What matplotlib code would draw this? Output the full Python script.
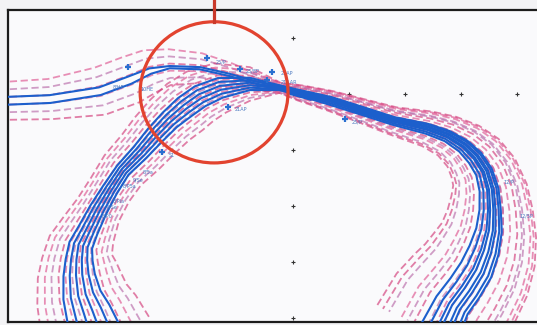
import numpy as np
import matplotlib
matplotlib.use('Agg')
from matplotlib import pyplot as plt
from matplotlib.patches import Ellipse

# guidance tracks (lon, lat)
west_lon = [-80.30, -80.09, -79.34, -78.45, -77.91, -77.55, -77.20, -76.66, -76.13, -75.68, -75.23]
west_lat = [24.88, 24.88, 24.91, 25.05, 25.25, 25.41, 25.48, 25.46, 25.34, 25.21, 25.11]
west_blue = [0.07, 0.07, 0.07, 0.07, 0.07, 0.05, 0.02, 0.02, 0.02, 0.02, 0.04]
west_pink = [0.34, 0.34, 0.36, 0.43, 0.43, 0.39, 0.32, 0.27, 0.21, 0.14, 0.09]

south_lon = [-78.52, -78.66, -78.77, -78.82, -78.82, -78.79, -78.66, -78.48, -78.27,
             -78.04, -77.73, -77.46, -77.20, -76.93, -76.66, -76.30, -75.77, -75.23]
south_lat = [20.70, 21.11, 21.41, 21.77, 22.04, 22.30, 22.57, 22.93, 23.29,
             23.64, 23.96, 24.27, 24.54, 24.77, 24.96, 25.11, 25.18, 25.11]
south_blue = [0.46, 0.40, 0.34, 0.28, 0.24, 0.21, 0.18, 0.16, 0.14,
              0.13, 0.15, 0.17, 0.18, 0.20, 0.20, 0.18, 0.11, 0.04]
south_pink = [1.00, 0.90, 0.82, 0.74, 0.66, 0.58, 0.50, 0.42, 0.40,
              0.42, 0.45, 0.48, 0.50, 0.52, 0.50, 0.45, 0.30, 0.09]

east_lon = [-75.23, -74.88, -74.34, -73.80, -73.21, -72.61, -72.25, -71.96, -71.75,
            -71.59, -71.50, -71.48, -71.50, -71.59, -71.73, -71.93, -72.16, -72.41]
east_lat = [25.11, 25.02, 24.88, 24.71, 24.52, 24.38, 24.25, 24.07, 23.86,
            23.61, 23.29, 22.93, 22.57, 22.21, 21.86, 21.54, 21.23, 20.70]
east_blue = [0.04, 0.05, 0.07, 0.07, 0.07, 0.09, 0.10, 0.12, 0.14,
             0.15, 0.17, 0.19, 0.23, 0.27, 0.30, 0.31, 0.32, 0.36]
east_pink = [0.09, 0.14, 0.18, 0.21, 0.25, 0.32, 0.38, 0.46, 0.54,
             0.60, 0.68, 0.76, 0.85, 0.95, 1.02, 1.08, 1.14, 1.21]

# members: (branch, spread fraction on branch, spread fraction after merge)
blue_members = [('west', -1.0, -0.2), ('west', 1.0, 0.3),
                ('south', -1.0, -1.0), ('south', -0.6, -0.6), ('south', -0.2, 0.0),
                ('south', 0.2, 0.5), ('south', 0.6, 0.8), ('south', 1.0, 1.0)]
pink_members = [('west', -1.0, -0.9), ('west', -0.6, -0.5), ('west', -0.2, -0.1),
                ('west', 0.2, 0.3), ('west', 0.6, 0.7), ('west', 1.0, 0.95),
                ('south', -1.0, -1.0), ('south', -0.83, -0.8), ('south', -0.67, -0.6),
                ('south', -0.5, -0.4), ('south', -0.33, -0.2), ('south', -0.17, 0.0),
                ('south', 0.0, 0.15), ('south', 0.17, 0.3), ('south', 0.33, 0.45),
                ('south', 0.5, 0.6), ('south', 0.67, 0.75), ('south', 0.83, 0.88),
                ('south', 1.0, 1.0)]
pink_colors = ['#d23a78', '#b86aa8', '#de5590']

# bold segments on the consensus
bold_lon = [[-75.05, -74.66], [-73.98, -73.39]]
bold_lat = [[25.04, 24.93], [24.75, 24.59]]

# forecast positions and their labels
fc_lon = [-77.95, -76.54, -75.95, -75.38, -75.46, -76.16, -74.07, -77.34]
fc_lat = [25.48, 25.64, 25.45, 25.39, 25.25, 24.77, 24.55, 23.96]
lab_text = ['8/HP', '10HE', '25/P', '25/8P', '21AP', '21AAR', '21AP', '25/P', 'S1',
            '8/5a', '9/Se', '8/P5a', '8/Pla', '8/Se', '8/P0', '12/P', '12/5P']
lab_lon = [-78.23, -77.73, -76.38, -75.84, -75.23, -75.23, -76.04, -73.95, -77.23,
           -77.68, -77.86, -78.04, -78.23, -78.32, -78.41, -71.25, -70.95]
lab_lat = [25.09, 25.05, 25.55, 25.38, 25.34, 25.18, 24.70, 24.48, 23.88,
           23.59, 23.43, 23.34, 23.07, 22.96, 22.80, 23.41, 22.79]

# graticule crosses along 75W and 25N
grid_lon = [-75, -75, -75, -75, -75, -75, -74, -73, -72, -71]
grid_lat = [26, 25, 24, 23, 22, 21, 25, 25, 25, 25]

# highlight circle
circ_lon, circ_lat = -76.41, 25.03
circ_w, circ_h = 2.64, 2.52

branches = {'west': (west_lon, west_lat, west_blue, west_pink),
            'south': (south_lon, south_lat, south_blue, south_pink)}


def offset_track(lon, lat, spread, frac):
    lon = np.asarray(lon)
    lat = np.asarray(lat)
    spread = np.asarray(spread)
    tx = np.gradient(lon)
    ty = np.gradient(lat)
    n = np.hypot(tx, ty)
    return lon - frac * spread * ty / n, lat + frac * spread * tx / n


def member(branch, f1, f2, kind):
    lon, lat, sb, sp = branches[branch]
    s1 = sb if kind == 'blue' else sp
    s2 = east_blue if kind == 'blue' else east_pink
    x1, y1 = offset_track(lon, lat, s1, f1)
    x2, y2 = offset_track(east_lon, east_lat, s2, f2)
    return np.concatenate([x1, x2[1:]]), np.concatenate([y1, y2[1:]])


fig = plt.figure(figsize=(5.37, 3.25), dpi=100, facecolor='#f3f3f5')
ax = fig.add_axes([8 / 537, 3 / 325, 532 / 537, 312 / 325])
ax.set_facecolor('#fafafc')
ax.set_xlim(-80.09, -70.59)
ax.set_ylim(20.93, 26.50)
ax.set_xticks([])
ax.set_yticks([])
for s in ['top', 'left', 'bottom']:
    ax.spines[s].set_linewidth(1.6)
    ax.spines[s].set_color('#1c1c1c')
ax.spines['right'].set_visible(False)

ax.plot(grid_lon, grid_lat, '+', color='#333333', ms=3, mew=0.8, zorder=1)

for i, (b, f1, f2) in enumerate(pink_members):
    x, y = member(b, f1, f2, 'pink')
    ax.plot(x, y, color=pink_colors[i % 3], lw=1.3, alpha=0.65,
            linestyle=(0, (4, 2)), zorder=2)

for b, f1, f2 in blue_members:
    x, y = member(b, f1, f2, 'blue')
    ax.plot(x, y, color='#1c5fcc', lw=1.5, zorder=3)

for bx, by in zip(bold_lon, bold_lat):
    ax.plot(bx, by, color='#1c5fcc', lw=4.5, solid_capstyle='butt', zorder=3)

ax.plot(fc_lon, fc_lat, '+', color='#2a6fd0', ms=4.5, mew=1.6, zorder=4)
for t, x, y in zip(lab_text, lab_lon, lab_lat):
    ax.text(x, y, t, fontsize=3.5, color='#4a78c0', zorder=4)

ax.add_patch(Ellipse((circ_lon, circ_lat), circ_w, circ_h, fill=False,
                     edgecolor='#e2432f', lw=2.3, zorder=5))
ax.plot([circ_lon, circ_lon], [circ_lat + circ_h / 2, 26.75], color='#c9392a',
        lw=2.3, clip_on=False, zorder=5)

fig.savefig('out.png', dpi=100, facecolor=fig.get_facecolor())
